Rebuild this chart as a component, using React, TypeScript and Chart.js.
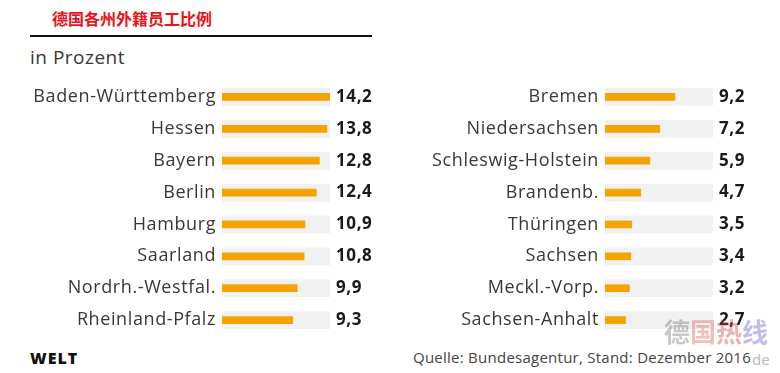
import React, { useEffect, useRef } from "react";
import { Chart, registerables } from "chart.js";

Chart.register(...registerables);

const leftStates = ["Baden-Württemberg", "Hessen", "Bayern", "Berlin", "Hamburg", "Saarland", "Nordrh.-Westfal.", "Rheinland-Pfalz"];
const leftValues = [14.2, 13.8, 12.8, 12.4, 10.9, 10.8, 9.9, 9.3];
const rightStates = ["Bremen", "Niedersachsen", "Schleswig-Holstein", "Brandenb.", "Thüringen", "Sachsen", "Meckl.-Vorp.", "Sachsen-Anhalt"];
const rightValues = [9.2, 7.2, 5.9, 4.7, 3.5, 3.4, 3.2, 2.7];
const scaleMax = 14.2;

const FONT = "'Open Sans', 'DejaVu Sans', sans-serif";

function fmt(v: number) {
  return v.toFixed(1).replace(".", ",");
}

const spacingPlugin = {
  id: "spacing",
  beforeDraw(chart: any) {
    chart.ctx.letterSpacing = "0.6px";
  },
};

function Panel({ labels, values, left, yWidth, y2Width }: { labels: string[]; values: number[]; left: number; yWidth: number; y2Width: number }) {
  const ref = useRef<HTMLCanvasElement>(null);
  useEffect(() => {
    if (!ref.current) return;
    const chart = new Chart(ref.current, {
      type: "bar",
      data: {
        labels,
        datasets: [
          {
            data: labels.map(() => scaleMax),
            backgroundColor: "#f1f1f1",
            barThickness: 17,
            grouped: false,
            order: 2,
          },
          {
            data: values,
            backgroundColor: "#f5a300",
            barThickness: 7,
            grouped: false,
            order: 1,
          },
        ],
      },
      options: {
        indexAxis: "y",
        animation: false,
        responsive: false,
        maintainAspectRatio: false,
        layout: { padding: 0 },
        plugins: { legend: { display: false }, tooltip: { enabled: false } },
        scales: {
          x: { display: false, min: 0, max: scaleMax },
          y: {
            type: "category",
            position: "left",
            grid: { display: false, drawTicks: false },
            border: { display: false },
            ticks: { color: "#383838", padding: 6, font: { family: FONT, size: 18 } },
            afterFit: (s: any) => { s.width = yWidth; s.paddingTop = 0; s.paddingBottom = 0; },
          },
          y2: {
            type: "category",
            position: "right",
            labels: values.map(fmt),
            offset: true,
            grid: { display: false, drawTicks: false },
            border: { display: false },
            ticks: { color: "#1a1a1a", padding: 6, font: { family: FONT, size: 17, weight: "bold" } },
            afterFit: (s: any) => { s.width = y2Width; s.paddingTop = 0; s.paddingBottom = 0; },
          },
        },
      },
      plugins: [spacingPlugin],
    } as any);
    return () => chart.destroy();
  }, []);
  return <canvas ref={ref} width={390} height={255} style={{ position: "absolute", left, top: 81, width: 390, height: 255 }} />;
}

export default function App() {
  return (
    <div style={{ position: "fixed", left: 0, top: 0, width: 780, height: 373, background: "#fff", overflow: "hidden" }}>
      <div style={{ position: "absolute", left: 52, top: 6, fontFamily: "'Noto Sans CJK SC', sans-serif", fontWeight: 700, fontSize: 16, color: "#e8141a", lineHeight: "24px" }}>
        德国各州外籍员工比例
      </div>
      <div style={{ position: "absolute", left: 30, top: 35, width: 342, height: 2, background: "#111" }} />
      <div style={{ position: "absolute", left: 30, top: 45, fontFamily: FONT, fontSize: 19, color: "#383838", lineHeight: "24px", letterSpacing: 0.5 }}>in Prozent</div>
      <Panel labels={leftStates} values={leftValues} left={0} yWidth={222} y2Width={60} />
      <Panel labels={rightStates} values={rightValues} left={390} yWidth={215} y2Width={67} />
      <div style={{ position: "absolute", left: 30, top: 348, fontFamily: FONT, fontWeight: 800, fontSize: 16, color: "#111", lineHeight: "20px", letterSpacing: 1 }}>WELT</div>
      <div style={{ position: "absolute", left: 413, top: 347, fontFamily: FONT, fontSize: 15, color: "#444", lineHeight: "20px", letterSpacing: 0.25 }}>
        Quelle: Bundesagentur, Stand: Dezember 2016
      </div>
      <div style={{ position: "absolute", left: 752, top: 349, fontFamily: FONT, fontSize: 15, color: "#bbb", lineHeight: "20px" }}>de</div>
      <div style={{ position: "absolute", left: 664, top: 314, fontFamily: "'Noto Sans CJK SC', sans-serif", fontWeight: 700, fontSize: 26, lineHeight: "34px", opacity: 0.4, whiteSpace: "nowrap" }}>
        <span style={{ color: "#777" }}>德</span>
        <span style={{ color: "#e05a50" }}>国</span>
        <span style={{ color: "#d04040" }}>热</span>
        <span style={{ color: "#6a5acd" }}>线</span>
      </div>
    </div>
  );
}
